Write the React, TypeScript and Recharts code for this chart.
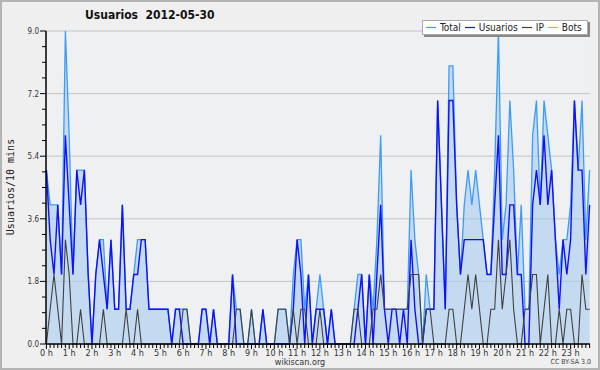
import { Area, CartesianGrid, ComposedChart, Line, XAxis, YAxis } from 'recharts';

// one value per 10 minutes, 00:00 .. 23:50
const TOTAL = [
  5, 4, 4, 4, 2, 9, 6, 2, 5, 5, 5, 2, 0, 2, 3, 3, 1, 3, 1, 1, 4, 1, 1, 2,
  3, 3, 3, 1, 1, 1, 1, 1, 1, 0, 1, 1, 1, 1, 0, 0, 0, 1, 1, 0, 1, 0, 0, 0,
  0, 2, 1, 1, 0, 0, 1, 0, 0, 1, 0, 0, 0, 1, 1, 1, 0, 2, 3, 3, 1, 2, 0, 1,
  2, 1, 0, 1, 0, 0, 0, 0, 0, 1, 2, 2, 0, 2, 1, 3, 6, 1, 1, 1, 1, 1, 1, 1,
  5, 3, 2, 0, 2, 1, 1, 7, 4, 1, 8, 8, 4, 2, 4, 5, 4, 5, 4, 3, 2, 2, 5, 9,
  3, 4, 7, 5, 2, 4, 1, 1, 6, 7, 4, 7, 6, 5, 3, 2, 3, 3, 4, 7, 5, 7, 3, 5,
];
const USUARIOS = [
  5, 3, 2, 4, 2, 6, 4, 2, 5, 4, 5, 2, 0, 2, 3, 2, 1, 3, 1, 1, 4, 1, 1, 2,
  2, 3, 3, 1, 1, 1, 1, 1, 1, 0, 1, 1, 0, 0, 0, 0, 0, 1, 1, 0, 1, 0, 0, 0,
  0, 2, 0, 0, 0, 0, 0, 0, 0, 1, 0, 0, 0, 0, 0, 0, 0, 1, 3, 2, 0, 2, 0, 1,
  1, 1, 0, 1, 0, 0, 0, 0, 0, 0, 1, 2, 0, 2, 0, 2, 4, 1, 0, 1, 1, 0, 1, 0,
  3, 1, 0, 0, 1, 1, 1, 7, 4, 1, 7, 7, 4, 2, 3, 3, 3, 3, 3, 3, 2, 2, 4, 6,
  2, 2, 4, 4, 2, 2, 0, 0, 4, 5, 4, 6, 4, 5, 3, 1, 3, 2, 3, 7, 5, 5, 2, 4,
];
const IP = [
  0, 1, 2, 1, 0, 3, 2, 0, 0, 1, 0, 0, 0, 0, 0, 1, 0, 0, 0, 0, 0, 1, 0, 0,
  1, 0, 0, 0, 0, 0, 0, 0, 0, 0, 0, 0, 1, 1, 0, 0, 0, 0, 0, 0, 0, 0, 0, 0,
  0, 0, 1, 1, 0, 0, 1, 0, 0, 0, 0, 0, 0, 1, 1, 1, 0, 1, 0, 1, 1, 0, 0, 0,
  1, 0, 0, 0, 0, 0, 0, 0, 0, 1, 1, 0, 0, 0, 1, 1, 2, 1, 1, 1, 1, 1, 1, 1,
  2, 2, 2, 0, 1, 1, 0, 0, 0, 0, 1, 1, 0, 0, 1, 2, 1, 2, 1, 0, 0, 1, 1, 3,
  1, 2, 3, 1, 0, 0, 1, 1, 2, 2, 0, 1, 2, 0, 0, 1, 0, 1, 1, 0, 0, 2, 1, 1,
];
const HOUR_LABELS = [
  '0 h', '1 h', '2 h', '3 h', '4 h', '5 h', '6 h', '7 h', '8 h', '9 h', '10 h', '11 h',
  '12 h', '13 h', '14 h', '15 h', '16 h', '17 h', '18 h', '19 h', '20 h', '21 h', '22 h', '23 h',
];
const Y_LABELS = ['0.0', '1.8', '3.6', '5.4', '7.2', '9.0'];

const C_TOTAL = '#3d9cf5';
const C_USERS = '#1010ff';
const C_IP = '#404040';
const C_BOTS = '#ffa020';
const FONT = "'DejaVu Sans Condensed', 'DejaVu Sans', sans-serif";

const rows = TOTAL.map((t, i) => ({ i, total: t, usuarios: USUARIOS[i], ip: IP[i] }));
const xTicks = rows.map((r) => r.i);
const yTicks = Array.from({ length: 21 }, (_, k) => k * 0.45);

function XTick({ x, y, payload }: any) {
  const v = payload.value as number;
  const major = v % 6 === 0;
  return (
    <g>
      <line x1={x} x2={x} y1={y} y2={y + (major ? 5 : 4)} stroke="#000" />
      {major && (
        <text x={x} y={y + 12} textAnchor="middle" fontSize={9} fill="#333" fontFamily={FONT} style={{ fontStretch: 'condensed' }}>
          {HOUR_LABELS[v / 6]}
        </text>
      )}
    </g>
  );
}

function YTick({ x, y, index }: any) {
  const major = index % 4 === 0;
  return (
    <g>
      <line x1={x - (major ? 6 : 4)} x2={x} y1={y} y2={y} stroke="#000" />
      {major && (
        <text x={x - 7} y={y + 3} textAnchor="end" fontSize={8} fill="#333" fontFamily={FONT} style={{ fontStretch: 'condensed' }}>
          {Y_LABELS[index / 4]}
        </text>
      )}
    </g>
  );
}

const LEGEND = [
  { name: 'Total', color: C_TOTAL },
  { name: 'Usuarios', color: C_USERS },
  { name: 'IP', color: C_IP },
  { name: 'Bots', color: C_BOTS },
];

export default function App() {
  return (
    <div style={{ position: 'absolute', left: 0, top: 0, width: 600, height: 370, background: '#efefef', fontFamily: FONT }}>
      <ComposedChart width={600} height={370} data={rows} margin={{ top: 31, right: 10, bottom: 0, left: 0 }}>
        <CartesianGrid vertical={false} horizontalValues={[1.8, 3.6, 5.4, 7.2, 9]} stroke="#c4c4c4" fill="#eff0f2" />
        <XAxis
          dataKey="i"
          type="number"
          domain={[-0.1, 143.1]}
          ticks={xTicks}
          interval={0}
          height={26}
          tickSize={0}
          tickMargin={0}
          tick={<XTick />}
          axisLine={{ stroke: '#000', strokeWidth: 1.5 }}
        />
        <YAxis
          type="number"
          domain={[0, 9]}
          ticks={yTicks}
          interval={0}
          width={46}
          tickSize={0}
          tickMargin={0}
          tick={<YTick />}
          axisLine={{ stroke: '#000', strokeWidth: 1.5 }}
        />
        <Area type="linear" dataKey="total" stroke={C_TOTAL} strokeWidth={1.3} fill="#a6cbee" fillOpacity={0.6} isAnimationActive={false} dot={false} />
        <Line type="linear" dataKey="usuarios" stroke={C_USERS} strokeWidth={1.4} dot={false} isAnimationActive={false} />
        <Line type="linear" dataKey="ip" stroke={C_IP} strokeWidth={1.1} dot={false} isAnimationActive={false} />
      </ComposedChart>

      <div style={{ position: 'absolute', left: 85, top: 8, fontSize: 12, fontWeight: 'bold', fontStretch: 'condensed', color: '#111', whiteSpace: 'pre' }}>
        {'Usuarios  2012-05-30'}
      </div>

      <div
        style={{
          position: 'absolute', left: 422, top: 20, width: 166, height: 15, background: '#fff',
          border: '1px solid #aaa', boxShadow: '2px 2px 0 #888', display: 'flex', alignItems: 'center',
          fontSize: 10, fontStretch: 'condensed', color: '#222', paddingLeft: 3, boxSizing: 'border-box',
        }}
      >
        {LEGEND.map((it) => (
          <span key={it.name} style={{ display: 'flex', alignItems: 'center', marginRight: 4 }}>
            <svg width={10} height={3} style={{ marginRight: 4 }}>
              <line x1={0} x2={10} y1={1.5} y2={1.5} stroke={it.color} strokeWidth={1.2} />
            </svg>
            {it.name}
          </span>
        ))}
      </div>

      <div
        style={{
          position: 'absolute', left: 4, top: 187, width: 0, height: 0, whiteSpace: 'nowrap',
          fontFamily: "'DejaVu Sans Mono', monospace", fontSize: 10, color: '#222',
        }}
      >
        <div style={{ transform: 'translate(-50%, -50%) rotate(-90deg)', position: 'absolute', left: 6, top: 0 }}>
          Usuarios/10 mins
        </div>
      </div>

      <div style={{ position: 'absolute', left: 0, width: 600, top: 358, lineHeight: '9px', textAlign: 'center', fontSize: 9, color: '#333', fontStretch: 'condensed' }}>
        wikiscan.org
      </div>
      <div style={{ position: 'absolute', right: 9, top: 359, lineHeight: '7px', fontSize: 7, color: '#444', fontStretch: 'condensed' }}>
        CC BY-SA 3.0
      </div>
      <div style={{ position: 'absolute', left: 0, top: 0, width: 600, height: 370, border: '2px solid #b4b4b4', boxSizing: 'border-box', pointerEvents: 'none' }} />
    </div>
  );
}
